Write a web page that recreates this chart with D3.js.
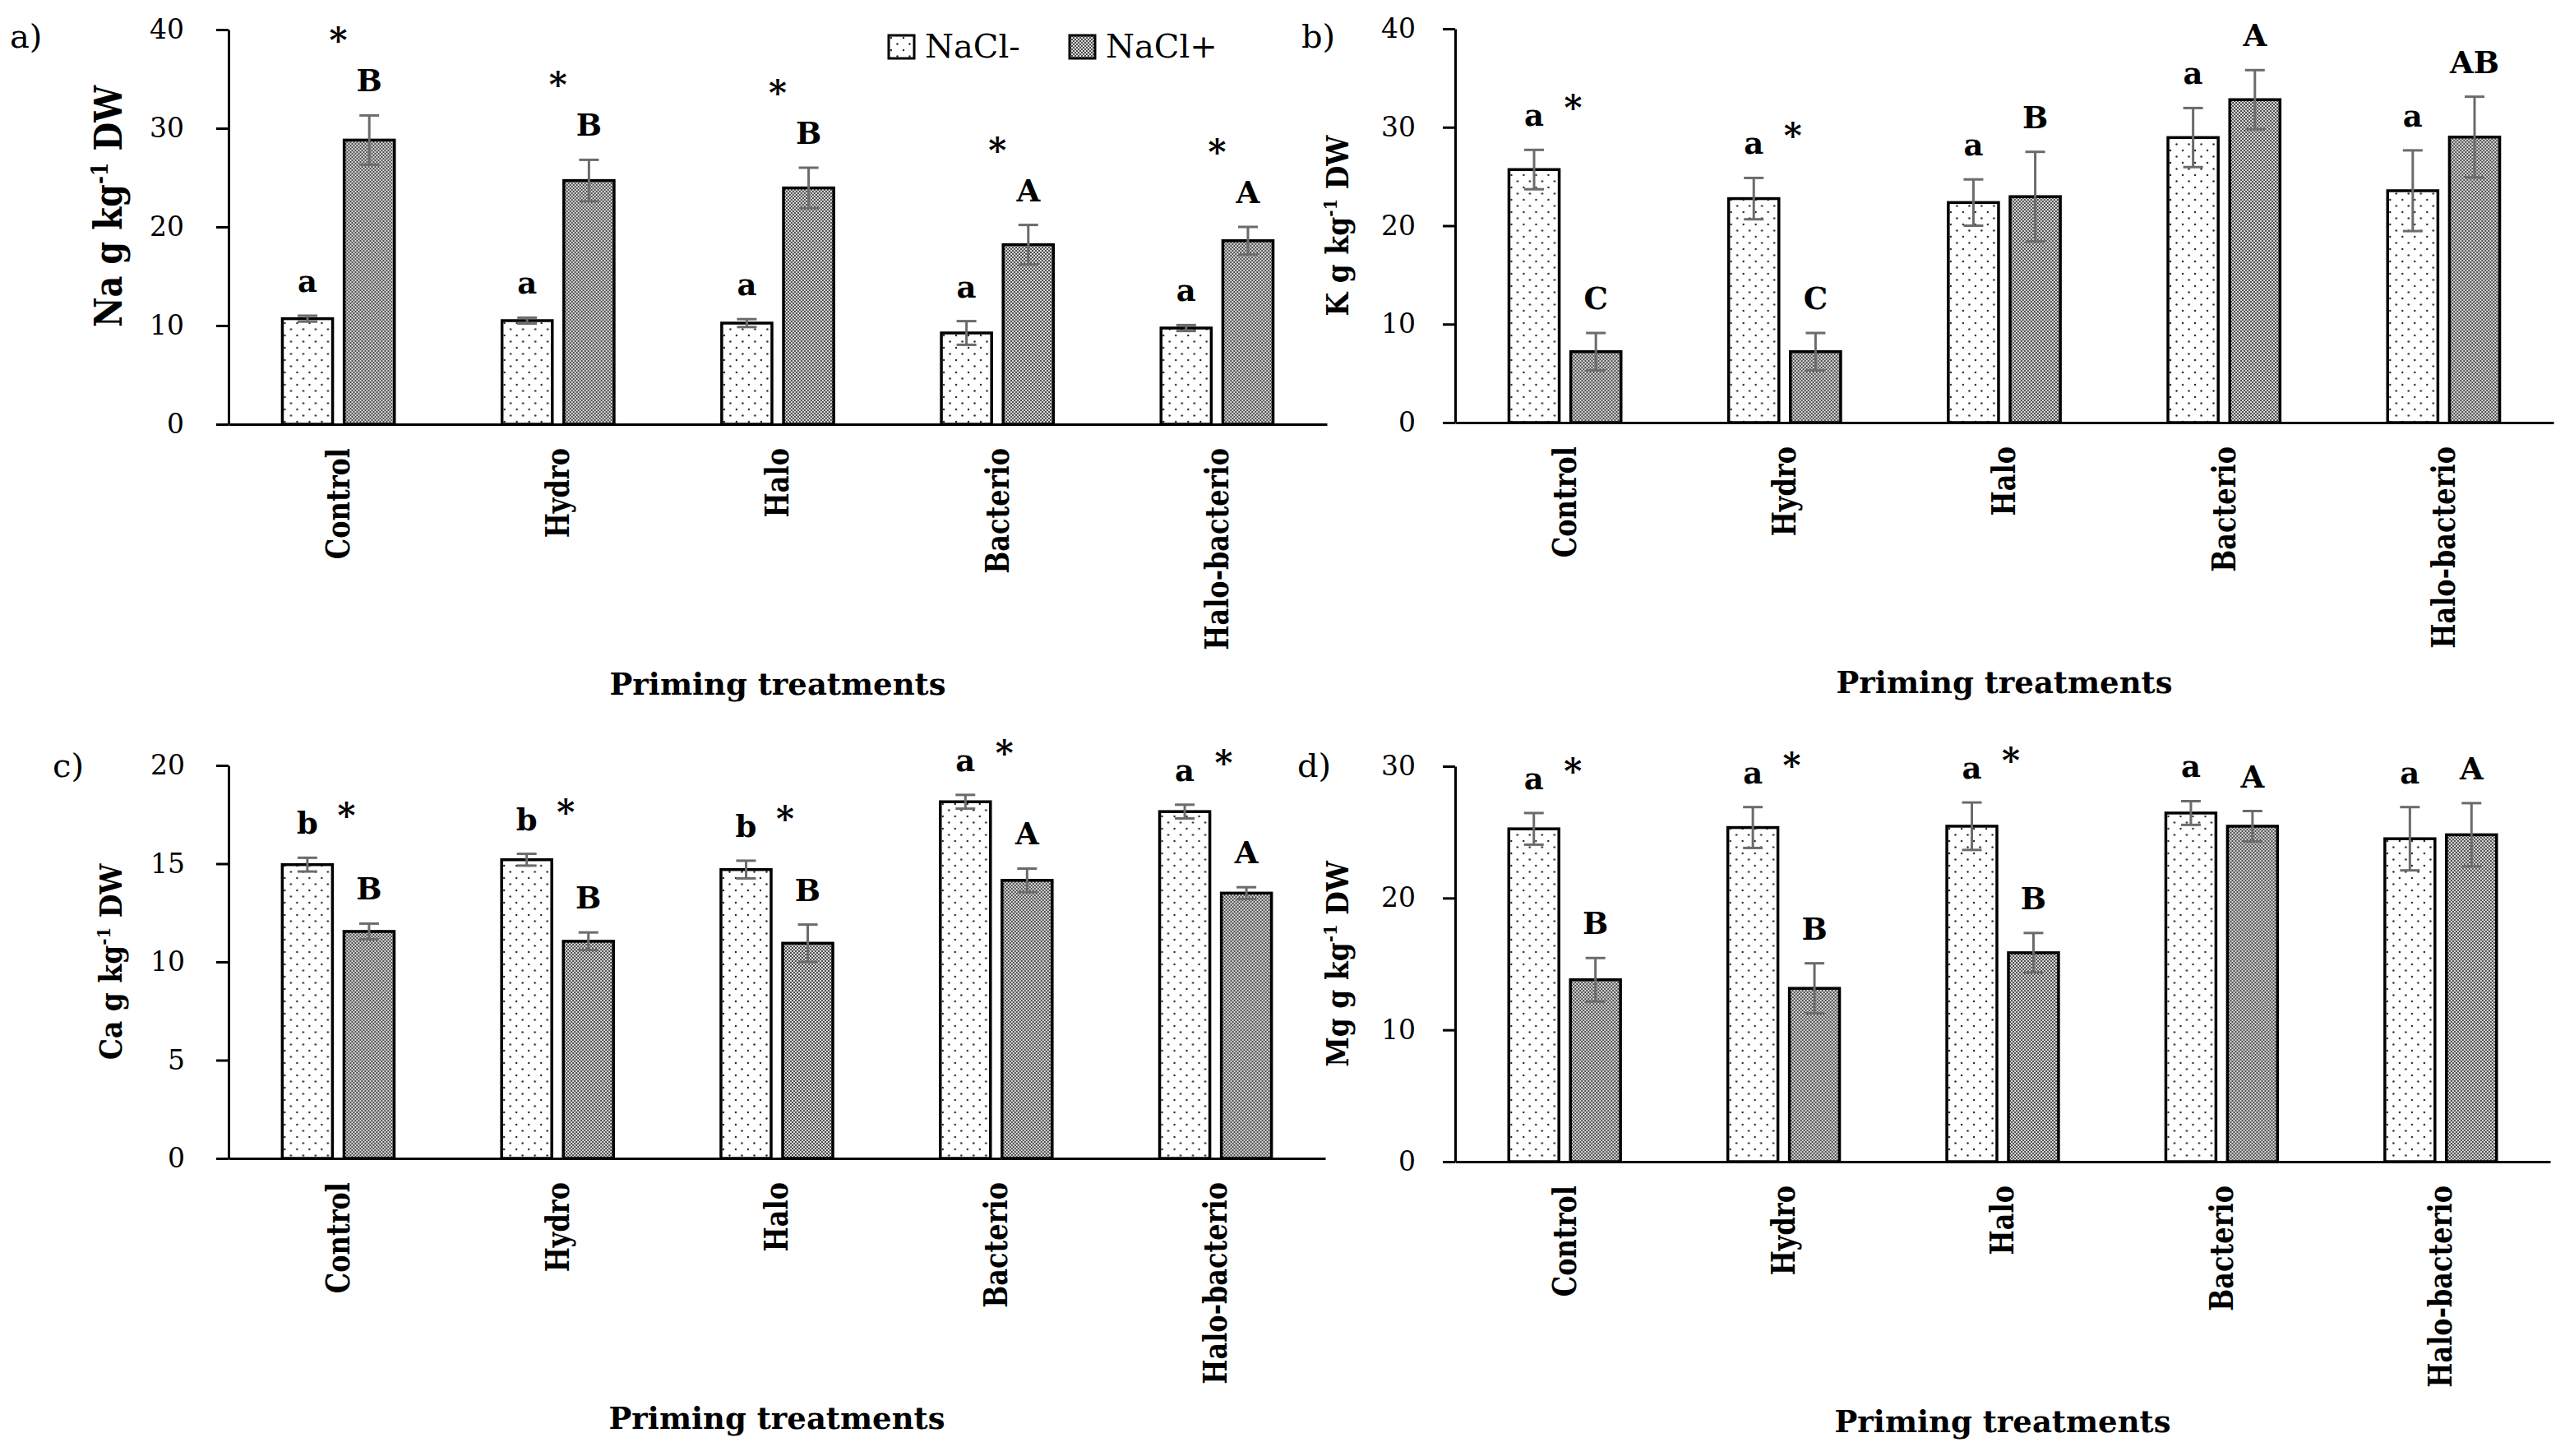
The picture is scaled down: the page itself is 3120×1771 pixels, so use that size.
<!DOCTYPE html>
<html>
<head>
<meta charset="utf-8">
<script src="https://cdn.jsdelivr.net/npm/d3@7"></script>
<style>
  body { margin: 0; background: #fff; }
  svg text { font-family: "DejaVu Serif", serif; fill: #000; }
</style>
</head>
<body>
<div id="chart"></div>
<script>
// Categories and series
var categories = ["Control", "Hydro", "Halo", "Bacterio", "Halo-bacterio"];
var series = ["NaCl-", "NaCl+"];

// a) Na
var naMinus = [10.7, 10.5, 10.25, 9.25, 9.75];
var naMinusSe = [0.3, 0.3, 0.4, 1.2, 0.3];
var naPlus = [28.8, 24.7, 23.95, 18.2, 18.6];
var naPlusSe = [2.5, 2.1, 2.05, 2.0, 1.4];
var naLower = ["a", "a", "a", "a", "a"];
var naUpper = ["B", "B", "B", "A", "A"];
var naStar = [1, 1, 1, 1, 1];
var naTicks = [0, 10, 20, 30, 40];

// b) K
var kMinus = [25.7, 22.75, 22.35, 28.95, 23.55];
var kMinusSe = [2.0, 2.1, 2.35, 3.0, 4.1];
var kPlus = [7.2, 7.2, 22.95, 32.8, 29.0];
var kPlusSe = [1.9, 1.9, 4.55, 3.0, 4.1];
var kLower = ["a", "a", "a", "a", "a"];
var kUpper = ["C", "C", "B", "A", "AB"];
var kStar = [1, 1, 0, 0, 0];
var kTicks = [0, 10, 20, 30, 40];

// c) Ca
var caMinus = [14.95, 15.2, 14.7, 18.15, 17.65];
var caMinusSe = [0.35, 0.3, 0.45, 0.35, 0.35];
var caPlus = [11.55, 11.05, 10.95, 14.15, 13.5];
var caPlusSe = [0.4, 0.45, 0.95, 0.6, 0.3];
var caLower = ["b", "b", "b", "a", "a"];
var caUpper = ["B", "B", "B", "A", "A"];
var caStar = [1, 1, 1, 1, 1];
var caTicks = [0, 5, 10, 15, 20];

// d) Mg
var mgMinus = [25.25, 25.35, 25.45, 26.45, 24.5];
var mgMinusSe = [1.2, 1.55, 1.8, 0.9, 2.4];
var mgPlus = [13.8, 13.15, 15.85, 25.45, 24.8];
var mgPlusSe = [1.65, 1.9, 1.5, 1.15, 2.4];
var mgLower = ["a", "a", "a", "a", "a"];
var mgUpper = ["B", "B", "B", "A", "A"];
var mgStar = [1, 1, 1, 0, 0];
var mgTicks = [0, 10, 20, 30];

var width = 3120, height = 1771;

var svg = d3.select("#chart")
  .append("svg")
  .attr("width", width)
  .attr("height", height);

svg.append("rect").attr("width", width).attr("height", height).attr("fill", "#fff");

// Fill patterns: dotted (NaCl-) and fine checker (NaCl+)
var defs = svg.append("defs");
var dots = defs.append("pattern")
  .attr("id", "dots")
  .attr("patternUnits", "userSpaceOnUse")
  .attr("width", 15)
  .attr("height", 15);
dots.append("rect").attr("width", 15).attr("height", 15).attr("fill", "#fff");
dots.append("circle").attr("cx", 3).attr("cy", 3).attr("r", 1.2).attr("fill", "#222");
dots.append("circle").attr("cx", 10.5).attr("cy", 10.5).attr("r", 1.2).attr("fill", "#222");

var check = defs.append("pattern")
  .attr("id", "check")
  .attr("patternUnits", "userSpaceOnUse")
  .attr("width", 4)
  .attr("height", 4);
check.append("rect").attr("width", 4).attr("height", 4).attr("fill", "#4d4d4d");
check.append("rect").attr("x", 0.1).attr("y", 0.1).attr("width", 1.8).attr("height", 1.8).attr("fill", "#fff");
check.append("rect").attr("x", 2.1).attr("y", 2.1).attr("width", 1.8).attr("height", 1.8).attr("fill", "#fff");

var fill = d3.scaleOrdinal()
  .domain(series)
  .range(["url(#dots)", "url(#check)"]);

var panels = [
  {tag: "a)", ion: "Na", minus: naMinus, minusSe: naMinusSe, plus: naPlus, plusSe: naPlusSe,
   lower: naLower, upper: naUpper, star: naStar, ticks: naTicks,
   left: 278, right: 1614, top: 36, bottom: 516, tagX: 12, tagY: 58,
   titleSize: 40, titleShift: -25, tickPad: 39, starGap: 58, starDx: 0, legend: true},
  {tag: "b)", ion: "K", minus: kMinus, minusSe: kMinusSe, plus: kPlus, plusSe: kPlusSe,
   lower: kLower, upper: kUpper, star: kStar, ticks: kTicks,
   left: 1770, right: 3106, top: 35, bottom: 514, tagX: 1583, tagY: 58,
   titleSize: 33, titleShift: 0, tickPad: 33, starGap: 18, starDx: 10},
  {tag: "c)", ion: "Ca", minus: caMinus, minusSe: caMinusSe, plus: caPlus, plusSe: caPlusSe,
   lower: caLower, upper: caUpper, star: caStar, ticks: caTicks,
   left: 278, right: 1612, top: 931, bottom: 1409, tagX: 64, tagY: 945,
   titleSize: 33, titleShift: 0, tickPad: 38, starGap: 18, starDx: 10},
  {tag: "d)", ion: "Mg", minus: mgMinus, minusSe: mgMinusSe, plus: mgPlus, plusSe: mgPlusSe,
   lower: mgLower, upper: mgUpper, star: mgStar, ticks: mgTicks,
   left: 1770, right: 3102, top: 932, bottom: 1413, tagX: 1578, tagY: 945,
   titleSize: 33, titleShift: 0, tickPad: 33, starGap: 18, starDx: 10}
];

function drawPanel(p) {
  var g = svg.append("g");

  // Scales
  var x0 = d3.scaleBand()
    .domain(categories)
    .range([p.left, p.right])
    .paddingInner(0.49)
    .paddingOuter(0.245);

  var x1 = d3.scaleBand()
    .domain(series)
    .range([0, x0.bandwidth()])
    .paddingInner(0.187);

  var y = d3.scaleLinear()
    .domain([0, d3.max(p.ticks)])
    .range([p.bottom, p.top]);

  var rows = categories.map(function(c, i) {
    return {
      cat: c,
      star: p.star[i],
      vals: [
        {key: "NaCl-", v: p.minus[i], se: p.minusSe[i], letter: p.lower[i]},
        {key: "NaCl+", v: p.plus[i], se: p.plusSe[i], letter: p.upper[i]}
      ]
    };
  });

  var groups = g.selectAll("g.grp")
    .data(rows)
    .enter().append("g")
    .attr("class", "grp")
    .attr("transform", d => "translate(" + x0(d.cat) + ",0)");

  // Bars
  groups.selectAll("rect")
    .data(d => d.vals)
    .enter().append("rect")
    .attr("x", d => x1(d.key))
    .attr("y", d => y(d.v))
    .attr("width", x1.bandwidth())
    .attr("height", d => y(0) - y(d.v))
    .attr("fill", d => fill(d.key))
    .attr("stroke", "#000")
    .attr("stroke-width", 3.5);

  // Error bars
  var err = groups.selectAll("g.err")
    .data(d => d.vals)
    .enter().append("g")
    .attr("class", "err")
    .attr("stroke", "#6b6b6b")
    .attr("stroke-width", 3);

  err.append("line")
    .attr("x1", d => x1(d.key) + x1.bandwidth() / 2)
    .attr("x2", d => x1(d.key) + x1.bandwidth() / 2)
    .attr("y1", d => y(d.v - d.se))
    .attr("y2", d => y(d.v + d.se));
  [1, -1].forEach(function(s) {
    err.append("line")
      .attr("x1", d => x1(d.key) + x1.bandwidth() / 2 - 12)
      .attr("x2", d => x1(d.key) + x1.bandwidth() / 2 + 12)
      .attr("y1", d => y(d.v + s * d.se))
      .attr("y2", d => y(d.v + s * d.se));
  });

  // Letters above error bars
  groups.selectAll("text.letter")
    .data(d => d.vals)
    .enter().append("text")
    .attr("class", "letter")
    .attr("x", d => x1(d.key) + x1.bandwidth() / 2)
    .attr("y", d => y(d.v + d.se) - 42 + 13)
    .attr("text-anchor", "middle")
    .attr("font-weight", "bold")
    .attr("font-size", 37)
    .text(d => d.letter);

  // Asterisks (significant NaCl effect)
  groups.filter(d => d.star)
    .append("text")
    .attr("x", x0.bandwidth() / 2 + p.starDx)
    .attr("y", d => d3.min(d.vals, v => y(v.v + v.se) - 42) - p.starGap + 24)
    .attr("text-anchor", "middle")
    .attr("font-weight", "bold")
    .attr("font-size", 42)
    .text("*");

  // Y axis
  var yAxis = g.append("g")
    .attr("transform", "translate(" + p.left + ",0)")
    .call(d3.axisLeft(y).tickValues(p.ticks).tickSize(15).tickSizeOuter(0).tickPadding(p.tickPad))
    .attr("font-family", "DejaVu Serif")
    .attr("font-size", 33);
  yAxis.select(".domain").attr("stroke", "#000").attr("stroke-width", 3);
  yAxis.selectAll(".tick line").attr("stroke", "#000").attr("stroke-width", 3);
  yAxis.selectAll(".tick text").attr("fill", "#000");

  // X axis with rotated category labels (slightly widened glyphs)
  var xAxis = g.append("g")
    .attr("transform", "translate(0," + p.bottom + ")")
    .call(d3.axisBottom(x0).tickSize(0).tickSizeOuter(0))
    .attr("font-family", "DejaVu Serif")
    .attr("font-size", 32);
  xAxis.select(".domain").attr("stroke", "#000").attr("stroke-width", 3);
  xAxis.selectAll(".tick text")
    .attr("transform", "rotate(-90) scale(1,1.2)")
    .attr("text-anchor", "end")
    .attr("font-weight", "bold")
    .attr("fill", "#000")
    .attr("x", -29)
    .attr("y", 0)
    .attr("dy", "0.35em");

  // X axis title
  g.append("text")
    .attr("x", (p.left + p.right) / 2)
    .attr("y", p.bottom + 329)
    .attr("text-anchor", "middle")
    .attr("font-weight", "bold")
    .attr("font-size", 37)
    .text("Priming treatments");

  // Y axis title with superscript
  var yt = g.append("text")
    .attr("transform", "translate(" + (p.left - 130) + "," + ((p.top + p.bottom) / 2 + p.titleShift) + ") rotate(-90) scale(1,1.15)")
    .attr("text-anchor", "middle")
    .attr("font-weight", "bold")
    .attr("font-size", p.titleSize);
  yt.append("tspan").text(p.ion + " g kg");
  yt.append("tspan").attr("font-size", p.titleSize * 0.6).attr("dy", -p.titleSize * 0.38).text("-1");
  yt.append("tspan").attr("dy", p.titleSize * 0.38).text(" DW");

  // Panel tag
  g.append("text")
    .attr("x", p.tagX)
    .attr("y", p.tagY)
    .attr("font-size", 40)
    .text(p.tag);

  // Legend
  if (p.legend) {
    var legend = g.append("g").attr("transform", "translate(1081,43)");
    series.forEach(function(key, i) {
      var row = legend.append("g").attr("transform", "translate(" + (i * 220) + ",0)");
      row.append("rect")
        .attr("width", 31)
        .attr("height", 28)
        .attr("fill", fill(key))
        .attr("stroke", "#000")
        .attr("stroke-width", 3);
      row.append("text")
        .attr("x", 44)
        .attr("y", 27)
        .attr("font-size", 40)
        .text(key);
    });
  }
}

panels.forEach(drawPanel);
</script>
</body>
</html>
